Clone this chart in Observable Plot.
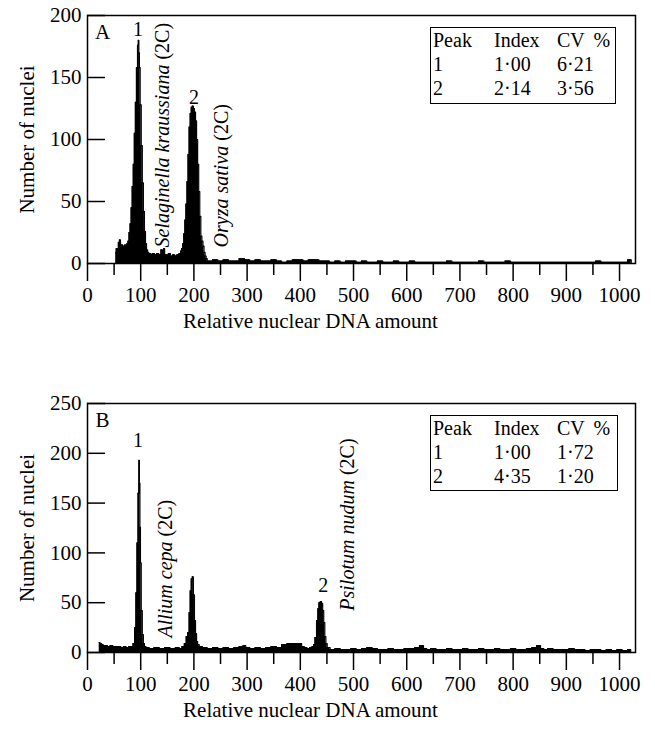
<!DOCTYPE html>
<html>
<head>
<meta charset="utf-8">
<script src="https://cdn.jsdelivr.net/npm/d3@7"></script>
<script src="https://cdn.jsdelivr.net/npm/@observablehq/plot@0.6"></script>
<style>
  html, body { margin: 0; padding: 0; background: #fff; }
  #wrap { position: relative; width: 655px; height: 733px; font-family: "Liberation Serif", "Times New Roman", Times, Tinos, "DejaVu Serif", "Nimbus Roman", FreeSerif, serif; }
  #wrap svg { display: block; }
  #wrap svg text { font-family: "Liberation Serif", "Times New Roman", Times, Tinos, "DejaVu Serif", "Nimbus Roman", FreeSerif, serif; }
  .legend { position: absolute; border: 1.5px solid #000; box-sizing: border-box; background: #fff; }
  .legend span { position: absolute; font-size: 20px; line-height: 24px; white-space: nowrap; color: #000; word-spacing: 4px; }
</style>
</head>
<body>
<div id="wrap"></div>
<script>
// ---------------- Data ----------------
// Panel A: Selaginella kraussiana (peak 1) + Oryza sativa standard (peak 2)
const chA = [53,55,57,59,61,63,65,67,69,71,73,75,77,79,81,83,85,87,89,91,93,95,96,97,98,100,102,104,106,108,110,112,114,116,118,120,124,128,132,136,140,142,144,146,150,154,158,162,166,170,174,176,178,180,182,184,186,188,190,192,194,196,198,200,202,204,206,208,210,212,214,216,218,220,222,224,226,
  230,240,250,260,270,280,290,300,310,320,330,340,350,360,370,380,390,400,410,420,430,440,450,460,470,480,490,500,510,520,530,540,550,560,570,580,590,600,610,620,630,640,650,660,670,680,690,700,710,720,730,740,750,760,770,780,790,800,810,820,830,840,850,860,870,880,890,900,910,920,930,940,950,960,970,980,990,1000,1010,1020,1024];
const nA = [9,12,10,17,19,14,15,13,14,15,14,16,18,25,32,45,62,80,105,130,158,176,180,170,158,128,95,65,42,26,16,11,9,8,8,7,8,7,8,7,11,7,12,7,7,8,6,7,6,7,8,10,12,16,24,35,48,66,88,110,121,126,127,125,122,115,100,80,58,38,22,18,14,9,6,4,2,
  2,3,2,3,2,2,4,3,2,3,2,2,3,2,1,2,3,3,2,3,3,2,2,1,2,1,2,2,1,2,1,1,2,1,1,2,1,1,2,1,1,1,1,1,1,2,1,1,1,1,1,2,1,1,1,1,2,1,1,1,1,1,1,1,1,1,1,1,1,1,1,1,1,2,1,1,1,1,1,3,0];

// Panel B: Allium cepa (peak 1) + Psilotum nudum (peak 2)
const chB = [22,25,28,31,35,40,45,50,55,60,65,70,75,80,84,87,90,92,94,96,97,98,99,100,102,104,106,108,112,120,130,140,150,160,170,175,180,184,187,190,192,194,196,198,200,202,204,206,208,212,220,230,240,250,260,270,280,290,295,300,310,320,330,340,350,360,370,380,390,400,405,410,415,420,424,426,429,432,434,436,439,441,443,445,447,449,452,
  460,470,480,490,500,510,520,530,540,550,560,570,580,590,600,610,620,628,635,640,650,660,670,680,690,700,710,720,730,740,750,760,770,780,790,800,810,820,830,840,848,855,860,870,880,890,900,910,920,930,940,950,960,970,980,990,1000,1010,1020,1022];
const nB = [10,9,8,7,7,6,7,6,6,6,5,6,5,6,6,9,25,60,110,160,193,170,126,90,42,18,9,6,5,4,5,4,5,4,5,4,6,9,16,20,40,62,74,76,58,32,19,11,8,6,5,4,5,4,5,4,5,6,7,5,4,5,4,5,6,5,8,9,9,9,6,5,4,5,6,8,15,32,44,50,51,49,42,30,16,9,5,
  3,4,3,3,4,3,4,5,4,3,3,4,3,3,4,4,5,7,4,3,4,3,3,4,3,3,4,3,3,4,3,3,4,3,3,4,3,3,4,5,7,4,3,4,3,3,3,4,3,3,2,3,3,2,3,2,3,2,3,0];

// Axis ticks
const xTicks = [0,100,200,300,400,500,600,700,800,900,1000];
const xMinor = [50,150,250,350,450,550,650,750,850,950];
const yTicksA = [0,50,100,150,200];
const yTicksB = [0,50,100,150,200,250];

// Annotations
const peakLabelsA = [{x: 95, y: 189, t: "1"}, {x: 200, y: 134, t: "2"}];
const peakLabelsB = [{x: 95, y: 213, t: "1"}, {x: 443, y: 67, t: "2"}];
const speciesA = [{x: 142, y: 13, t: "Selaginella kraussiana (2C)"}, {x: 252, y: 13, t: "Oryza sativa (2C)"}];
const speciesB = [{x: 146, y: 15, t: "Allium cepa (2C)"}, {x: 489, y: 42, t: "Psilotum nudum (2C)"}];

// Legend tables
const tableHeader = ["Peak", "Index", "CV %"];
const peaksA = ["1", "2"], indexA = ["1·00", "2·14"], cvA = ["6·21", "3·56"];
const peaksB = ["1", "2"], indexB = ["1·00", "4·35"], cvB = ["1·72", "1·20"];

const xLabel = "Relative nuclear DNA amount";
const yLabel = "Number of nuclei";

// ---------------- Drawing ----------------
const FONT = '"Liberation Serif", "Times New Roman", Times, Tinos, "DejaVu Serif", serif';
const FS = 20;

function panel({ch, n, yTicks, yMax, height, marginTop, letter, peaks, species}) {
  const data = ch.map((c, i) => ({x: c, y: n[i]}));
  const plotW = 655 - 87 - 20;
  const svg = Plot.plot({
    width: 655,
    height,
    marginLeft: 87,
    marginRight: 20,
    marginTop,
    marginBottom: 81,
    style: {fontFamily: FONT, fontSize: FS + "px", color: "#000", background: "#fff", overflow: "visible"},
    x: {domain: [0, 1030]},
    y: {domain: [0, yMax]},
    marks: [
      Plot.areaY(data, {x: "x", y: "y", curve: "step", fill: "#000"}),
      Plot.lineY(data, {x: "x", y: "y", curve: "step", stroke: "#000", strokeWidth: 1.2}),
      Plot.frame({stroke: "#000", strokeWidth: 1.5}),
      Plot.axisX(xTicks, {tickSize: 18, tickPadding: 6, strokeWidth: 1.5, fontSize: FS + 1, label: null, tickFormat: d => String(d)}),
      Plot.axisX(xMinor, {tickSize: 12, strokeWidth: 1.5, tickFormat: () => "", label: null}),
      Plot.axisY(yTicks, {tickSize: 0, tickPadding: 6, fontSize: FS + 1, label: null}),
      Plot.tickY(yTicks, {y: d => d, insetRight: plotW - 18, stroke: "#000", strokeWidth: 1.5}),
      Plot.text([letter], {frameAnchor: "top-left", dx: 15, dy: 17, fontSize: FS + 1, lineAnchor: "middle", textAnchor: "middle"}),
      Plot.text(peaks, {x: "x", y: "y", text: "t", fontSize: FS}),
      Plot.text(species, {x: "x", y: "y", text: "t", rotate: -90, textAnchor: "start", fontSize: FS}),
      Plot.text([xLabel], {frameAnchor: "bottom", dx: -51, dy: 64, fontSize: FS + 1, textAnchor: "middle"}),
      Plot.text([yLabel], {frameAnchor: "left", dx: -60, rotate: -90, fontSize: FS + 1, textAnchor: "middle"})
    ]
  });
  // italicise species names, keep "(2C)" upright
  d3.select(svg).selectAll("text").each(function() {
    const el = d3.select(this);
    const txt = el.text();
    const m = txt.match(/^(.*) (\(2C\))$/);
    if (m && el.selectAll("tspan").empty()) {
      el.text(null);
      el.append("tspan").attr("font-style", "italic").text(m[1]);
      el.append("tspan").text(" " + m[2]);
    }
  });
  return svg;
}

function legend(parent, left, top, width, height, cols) {
  const box = document.createElement("div");
  box.className = "legend";
  Object.assign(box.style, {left: left + "px", top: top + "px", width: width + "px", height: height + "px"});
  const colX = [2, 63, 126];
  const rows = [tableHeader, ...cols[0].map((_, i) => cols.map(c => c[i]))];
  rows.forEach((row, r) => {
    row.forEach((cell, c) => {
      const s = document.createElement("span");
      s.textContent = cell;
      s.style.left = colX[c] + "px";
      s.style.top = (r * 24 + 0) + "px";
      box.appendChild(s);
    });
  });
  parent.appendChild(box);
}

const wrap = document.getElementById("wrap");
wrap.appendChild(panel({ch: chA, n: nA, yTicks: yTicksA, yMax: 200, height: 344, marginTop: 15, letter: "A", peaks: peakLabelsA, species: speciesA}));
wrap.appendChild(panel({ch: chB, n: nB, yTicks: yTicksB, yMax: 250, height: 389, marginTop: 59, letter: "B", peaks: peakLabelsB, species: speciesB}));
legend(wrap, 430, 27, 186, 77, [peaksA, indexA, cvA]);
legend(wrap, 430, 415, 188, 76, [peaksB, indexB, cvB]);
</script>
</body>
</html>
